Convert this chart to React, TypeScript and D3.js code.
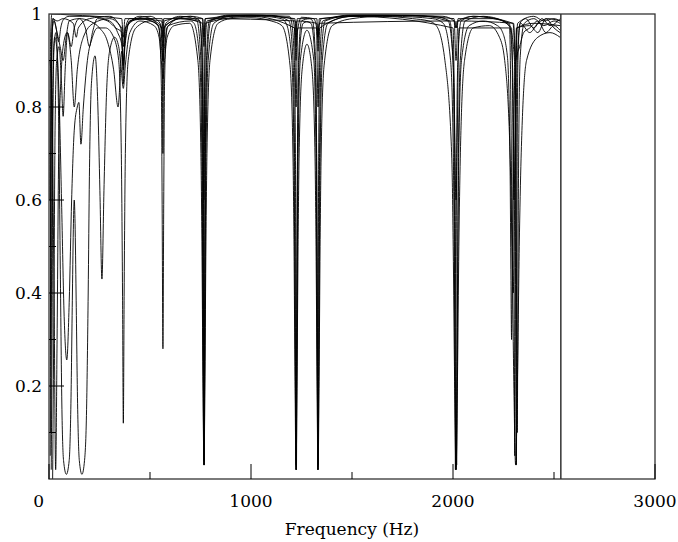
import React from 'react';
import * as d3 from 'd3';

// Frequency response curves: [frequency (Hz), normalised amplitude]
const curveA: [number, number][] = [
  [11, 0.02], [15, 0.3], [19, 0.75], [25, 0.93], [34, 0.96], [42, 0.9], [50, 0.7], [56, 0.45], [64, 0.15], [72, 0.04],
  [86, 0.01], [100, 0.04], [108, 0.15], [116, 0.4], [121, 0.55], [125, 0.6], [129, 0.55], [134, 0.4], [142, 0.15], [150, 0.04],
  [163, 0.01], [176, 0.04], [186, 0.15], [194, 0.4], [200, 0.65], [210, 0.85], [228, 0.91], [242, 0.8], [252, 0.62], [262, 0.43],
  [272, 0.62], [284, 0.82], [300, 0.92], [325, 0.95], [345, 0.93], [358, 0.88], [368, 0.84], [378, 0.89], [400, 0.96], [450, 0.985],
  [520, 0.975], [545, 0.95], [556, 0.9], [564, 0.86], [572, 0.9], [585, 0.95], [620, 0.975], [697, 0.98], [737, 0.9], [752, 0.7],
  [757, 0.51], [762, 0.22], [767, 0.03], [772, 0.22], [777, 0.51], [782, 0.7], [797, 0.9], [837, 0.98], [900, 0.99], [1000, 0.992],
  [1100, 0.985], [1153, 0.975], [1193, 0.89], [1208, 0.69], [1213, 0.5], [1218, 0.21], [1223, 0.02], [1228, 0.21], [1233, 0.5], [1238, 0.69],
  [1253, 0.88], [1277, 0.935], [1302, 0.88], [1317, 0.69], [1322, 0.5], [1327, 0.21], [1332, 0.02], [1337, 0.21], [1342, 0.5], [1347, 0.69],
  [1362, 0.89], [1402, 0.975], [1500, 0.99], [1650, 0.995], [1800, 0.99], [1880, 0.985], [1917, 0.975], [1960, 0.9], [1994, 0.69], [2001, 0.5],
  [2008, 0.21], [2015, 0.02], [2022, 0.21], [2029, 0.5], [2036, 0.69], [2057, 0.9], [2100, 0.97], [2180, 0.975], [2230, 0.95], [2256, 0.9],
  [2283, 0.69], [2292, 0.5], [2301, 0.21], [2310, 0.03], [2319, 0.21], [2328, 0.5], [2337, 0.69], [2364, 0.9], [2420, 0.95], [2480, 0.96],
  [2530, 0.95],
];

const curveB: [number, number][] = [
  [9, 0.1], [14, 0.55], [20, 0.88], [28, 0.95], [38, 0.93], [50, 0.82], [62, 0.6], [75, 0.35], [88, 0.256], [100, 0.38],
  [112, 0.6], [125, 0.75], [140, 0.8], [148, 0.81], [158, 0.72], [170, 0.8], [190, 0.9], [215, 0.95], [240, 0.97], [280, 0.97],
  [320, 0.95], [345, 0.9], [358, 0.7], [364, 0.4], [368, 0.12], [372, 0.4], [378, 0.7], [392, 0.9], [430, 0.97], [500, 0.985],
  [540, 0.975], [556, 0.93], [564, 0.9], [572, 0.93], [590, 0.975], [700, 0.985], [718, 0.98], [746, 0.9], [756.5, 0.7], [760, 0.51],
  [763.5, 0.22], [767, 0.03], [770.5, 0.22], [774, 0.51], [777.5, 0.7], [788, 0.9], [816, 0.98], [900, 0.995], [1050, 0.995], [1150, 0.99],
  [1174, 0.98], [1202, 0.9], [1212.5, 0.7], [1216, 0.51], [1219.5, 0.22], [1223, 0.02], [1226.5, 0.22], [1230, 0.51], [1233.5, 0.7], [1244, 0.9],
  [1277, 0.965], [1311, 0.9], [1321.5, 0.7], [1325, 0.51], [1328.5, 0.22], [1332, 0.02], [1335.5, 0.22], [1339, 0.51], [1342.5, 0.7], [1353, 0.9],
  [1381, 0.98], [1500, 0.995], [1700, 0.995], [1900, 0.99], [1952, 0.98], [1988, 0.9], [2001.5, 0.7], [2006, 0.51], [2010.5, 0.22], [2015, 0.02],
  [2019.5, 0.22], [2024, 0.51], [2028.5, 0.7], [2042, 0.9], [2080, 0.975], [2150, 0.985], [2220, 0.975], [2241, 0.965], [2269, 0.91], [2279.5, 0.77],
  [2283, 0.65], [2286.5, 0.45], [2290, 0.3], [2293.5, 0.45], [2297, 0.65], [2300.5, 0.77], [2311, 0.9], [2330, 0.93], [2350, 0.96], [2380, 0.97],
  [2420, 0.985], [2460, 0.96], [2500, 0.975], [2530, 0.965],
];

const curveC: [number, number][] = [
  [7, 0.3], [11, 0.8], [17, 0.97], [25, 0.985], [40, 0.96], [55, 0.93], [70, 0.9], [85, 0.95], [100, 0.985], [150, 0.99],
  [200, 0.985], [250, 0.97], [290, 0.94], [320, 0.88], [342, 0.8], [352, 0.86], [360, 0.92], [368, 0.89], [376, 0.93], [400, 0.985],
  [500, 0.99], [545, 0.97], [556, 0.85], [560, 0.6], [564, 0.28], [568, 0.6], [572, 0.85], [583, 0.97], [650, 0.99], [732, 0.985],
  [752, 0.9], [759.5, 0.7], [762, 0.51], [764.5, 0.22], [767, 0.04], [769.5, 0.22], [772, 0.51], [774.5, 0.7], [782, 0.9], [802, 0.985],
  [900, 0.997], [1100, 0.997], [1188, 0.985], [1208, 0.9], [1215.5, 0.7], [1218, 0.51], [1220.5, 0.22], [1223, 0.03], [1225.5, 0.22], [1228, 0.51],
  [1230.5, 0.7], [1238, 0.9], [1258, 0.98], [1277, 0.983], [1297, 0.98], [1317, 0.9], [1324.5, 0.7], [1327, 0.51], [1329.5, 0.22], [1332, 0.03],
  [1334.5, 0.22], [1337, 0.51], [1339.5, 0.7], [1347, 0.9], [1367, 0.985], [1500, 0.997], [1800, 0.997], [1976, 0.985], [2000, 0.9], [2009, 0.7],
  [2012, 0.51], [2015, 0.22], [2018, 0.03], [2021, 0.22], [2024, 0.51], [2027, 0.7], [2036, 0.9], [2060, 0.985], [2150, 0.995], [2250, 0.985],
  [2283, 0.97], [2303, 0.91], [2310.5, 0.72], [2313, 0.55], [2315.5, 0.28], [2318, 0.1], [2320.5, 0.28], [2323, 0.55], [2325.5, 0.72], [2333, 0.91],
  [2353, 0.98], [2400, 0.99], [2450, 0.975], [2500, 0.985], [2530, 0.98],
];

const curveD: [number, number][] = [
  [6, 0.05], [10, 0.7], [15, 0.95], [22, 0.99], [35, 0.97], [48, 0.94], [58, 0.97], [75, 0.99], [100, 0.995], [200, 0.995],
  [300, 0.985], [340, 0.96], [362, 0.93], [368, 0.88], [374, 0.93], [400, 0.985], [500, 0.995], [550, 0.98], [560, 0.93], [564, 0.9],
  [568, 0.93], [578, 0.98], [650, 0.995], [744.5, 0.985], [758.5, 0.9], [764, 0.7], [765.5, 0.51], [767.25, 0.22], [769, 0.03], [770.75, 0.22],
  [772.5, 0.51], [774, 0.7], [779.5, 0.9], [793.5, 0.985], [900, 0.998], [1190, 0.995], [1200, 0.985], [1214.5, 0.9], [1220, 0.7], [1221.5, 0.51],
  [1223.25, 0.22], [1225, 0.02], [1226.75, 0.22], [1228.5, 0.51], [1230, 0.7], [1235.5, 0.9], [1250, 0.985], [1290, 0.99], [1305, 0.985], [1319.5, 0.9],
  [1325, 0.7], [1326.5, 0.51], [1328.25, 0.22], [1330, 0.02], [1331.75, 0.22], [1333.5, 0.51], [1335, 0.7], [1340.5, 0.9], [1355, 0.985], [1500, 0.998],
  [1900, 0.995], [1984, 0.985], [2000, 0.9], [2006, 0.7], [2008, 0.51], [2010, 0.22], [2012, 0.02], [2014, 0.22], [2016, 0.51], [2018, 0.7],
  [2024, 0.9], [2040, 0.985], [2100, 0.995], [2200, 0.99], [2278, 0.98], [2294, 0.9], [2300, 0.7], [2302, 0.52], [2304, 0.24], [2306, 0.05],
  [2308, 0.24], [2310, 0.52], [2312, 0.7], [2318, 0.9], [2334, 0.98], [2380, 0.96], [2420, 0.98], [2470, 0.99], [2530, 0.985],
];

const curveE: [number, number][] = [
  [8, 0.5], [12, 0.92], [18, 0.99], [40, 0.985], [70, 0.99], [120, 0.98], [135, 0.95], [145, 0.97], [200, 0.99], [300, 0.995],
  [355, 0.97], [368, 0.9], [381, 0.97], [450, 0.995], [555, 0.975], [564, 0.93], [573, 0.975], [700, 0.995], [747.5, 0.985], [757.5, 0.91],
  [761.25, 0.72], [762.5, 0.55], [763.75, 0.28], [765, 0.1], [766.25, 0.28], [767.5, 0.55], [768.75, 0.72], [772.5, 0.91], [782.5, 0.985], [1000, 0.998],
  [1205, 0.99], [1217, 0.96], [1223, 0.9], [1229, 0.96], [1250, 0.993], [1310, 0.99], [1325, 0.97], [1330, 0.95], [1335, 0.97], [1350, 0.99],
  [1600, 0.998], [1950, 0.995], [2005, 0.985], [2015, 0.97], [2025, 0.985], [2100, 0.995], [2296.5, 0.98], [2306.5, 0.9], [2310.25, 0.7], [2311.5, 0.51],
  [2312.75, 0.22], [2314, 0.03], [2315.25, 0.22], [2316.5, 0.51], [2317.75, 0.7], [2321.5, 0.9], [2331.5, 0.98], [2360, 0.99], [2400, 0.97], [2440, 0.99],
  [2480, 0.975], [2530, 0.99],
];

const curveF: [number, number][] = [
  [4, 0.6], [8, 0.95], [14, 1.0], [100, 0.998], [360, 0.99], [368, 0.95], [376, 0.99], [560, 0.99], [564, 0.97], [568, 0.99],
  [760, 0.99], [767, 0.93], [774, 0.99], [1220, 0.985], [1223, 0.95], [1226, 0.985], [1326, 0.98], [1332, 0.95], [1338, 0.98], [2010, 0.985],
  [2015, 0.97], [2020, 0.985], [2300, 0.98], [2310, 0.9], [2320, 0.98], [2400, 0.995], [2450, 0.985], [2500, 0.99], [2530, 0.985],
];

const curveG: [number, number][] = [
  [5, 0.9], [15, 0.8], [25, 0.4], [33, 0.02], [40, 0.3], [48, 0.7], [58, 0.85], [70, 0.93], [90, 0.96], [110, 0.9],
  [125, 0.8], [140, 0.88], [170, 0.95], [220, 0.98], [300, 0.99], [360, 0.97], [368, 0.85], [376, 0.97], [450, 0.99], [560, 0.97],
  [564, 0.7], [568, 0.97], [650, 0.99], [760, 0.98], [767, 0.6], [774, 0.98], [1000, 0.995], [1215, 0.97], [1223, 0.8], [1231, 0.97],
  [1324, 0.97], [1332, 0.8], [1340, 0.97], [1500, 0.995], [2000, 0.97], [2015, 0.6], [2030, 0.97], [2280, 0.97], [2298, 0.4], [2316, 0.97],
  [2400, 0.98], [2530, 0.975],
];

const curveH: [number, number][] = [
  [18, 0.0], [24, 0.35], [30, 0.75], [38, 0.9], [50, 0.93], [62, 0.85], [70, 0.78], [80, 0.88], [92, 0.96], [110, 0.93],
  [125, 0.97], [150, 0.99], [180, 0.97], [200, 0.93], [215, 0.96], [240, 0.99], [290, 0.985], [330, 0.97], [362, 0.96], [368, 0.93],
  [374, 0.96], [400, 0.99], [558, 0.985], [564, 0.95], [570, 0.985], [700, 0.995], [761, 0.99], [767, 0.95], [773, 0.99], [1000, 0.997],
  [1217, 0.99], [1223, 0.93], [1229, 0.99], [1326, 0.99], [1332, 0.92], [1338, 0.99], [1700, 0.997], [2005, 0.99], [2015, 0.9], [2025, 0.99],
  [2200, 0.99], [2290, 0.97], [2302, 0.6], [2314, 0.97], [2380, 0.975], [2420, 0.96], [2460, 0.99], [2500, 0.97], [2530, 0.96],
];

const curves = [curveA, curveB, curveC, curveD, curveE, curveF, curveG, curveH];

// Upper frequency limit of the computed range
const cutoffHz = 2534;

const xMajorTicks = [0, 1000, 2000, 3000];
const xMinorTicks = [500, 1500, 2500];
const xTickLabels = ['0', '1000', '2000', '3000'];
const yMajorTicks = [0.2, 0.4, 0.6, 0.8];
const yMinorTicks = [0.1, 0.3, 0.5, 0.7, 0.9];
const yTickLabels = ['0.2', '0.4', '0.6', '0.8', '1'];
const yLabelValues = [0.2, 0.4, 0.6, 0.8, 1];
const xTitle = 'Frequency (Hz)';

const W = 678;
const H = 542;
const plot = { left: 49, right: 655, top: 14, bottom: 479 };

export default function App() {
  const x = d3.scaleLinear().domain([0, 3000]).range([plot.left, plot.right]);
  const y = d3.scaleLinear().domain([0, 1]).range([plot.bottom, plot.top]);
  const line = d3
    .line<[number, number]>()
    .x((d) => x(d[0]))
    .y((d) => y(d[1]))
    .curve(d3.curveMonotoneX);

  const font = "'DejaVu Serif', serif";
  const majorLen = 15;
  const minorLen = 7;

  return (
    <svg
      width={W}
      height={H}
      viewBox={`0 0 ${W} ${H}`}
      style={{ position: 'absolute', left: 0, top: 0, background: '#fff' }}
    >
      <rect x={0} y={0} width={W} height={H} fill="#fff" />
      <defs>
        <clipPath id="plotArea">
          <rect x={plot.left} y={plot.top} width={plot.right - plot.left} height={plot.bottom - plot.top} />
        </clipPath>
      </defs>

      <g clipPath="url(#plotArea)" fill="none" stroke="#000" strokeWidth={0.9} strokeLinejoin="round">
        {curves.map((c, i) => (
          <path key={i} d={line(c) || ''} />
        ))}
      </g>

      {/* range limit */}
      <line x1={x(cutoffHz)} x2={x(cutoffHz)} y1={y(0)} y2={y(1)} stroke="#000" strokeWidth={1.2} />

      {/* frame */}
      <rect
        x={plot.left}
        y={plot.top}
        width={plot.right - plot.left}
        height={plot.bottom - plot.top}
        fill="none"
        stroke="#333"
        strokeWidth={1.3}
      />

      {/* x ticks */}
      {xMajorTicks.map((t) => (
        <line key={'xM' + t} x1={x(t)} x2={x(t)} y1={y(0)} y2={y(0) - majorLen} stroke="#000" strokeWidth={1} />
      ))}
      {xMinorTicks.map((t) => (
        <line key={'xm' + t} x1={x(t)} x2={x(t)} y1={y(0)} y2={y(0) - minorLen} stroke="#000" strokeWidth={1} />
      ))}
      {/* y ticks */}
      {yMajorTicks.map((t) => (
        <line key={'yM' + t} x1={x(0)} x2={x(0) + majorLen} y1={y(t)} y2={y(t)} stroke="#000" strokeWidth={1} />
      ))}
      {yMinorTicks.map((t) => (
        <line key={'ym' + t} x1={x(0)} x2={x(0) + minorLen} y1={y(t)} y2={y(t)} stroke="#000" strokeWidth={1} />
      ))}

      {/* tick labels */}
      <g fontFamily={font} fontSize={17} fill="#000">
        {xMajorTicks.map((t, i) => (
          <text
            key={'xl' + t}
            x={i === 0 ? x(t) - 5 : x(t)}
            y={y(0) + 28}
            textAnchor={i === 0 ? 'end' : 'middle'}
          >
            {xTickLabels[i]}
          </text>
        ))}
        {yLabelValues.map((t, i) => (
          <text key={'yl' + t} x={x(0) - 7} y={y(t)} dy="0.36em" textAnchor="end">
            {yTickLabels[i]}
          </text>
        ))}
        <text x={x(1500)} y={y(0) + 56} textAnchor="middle">
          {xTitle}
        </text>
      </g>
    </svg>
  );
}
